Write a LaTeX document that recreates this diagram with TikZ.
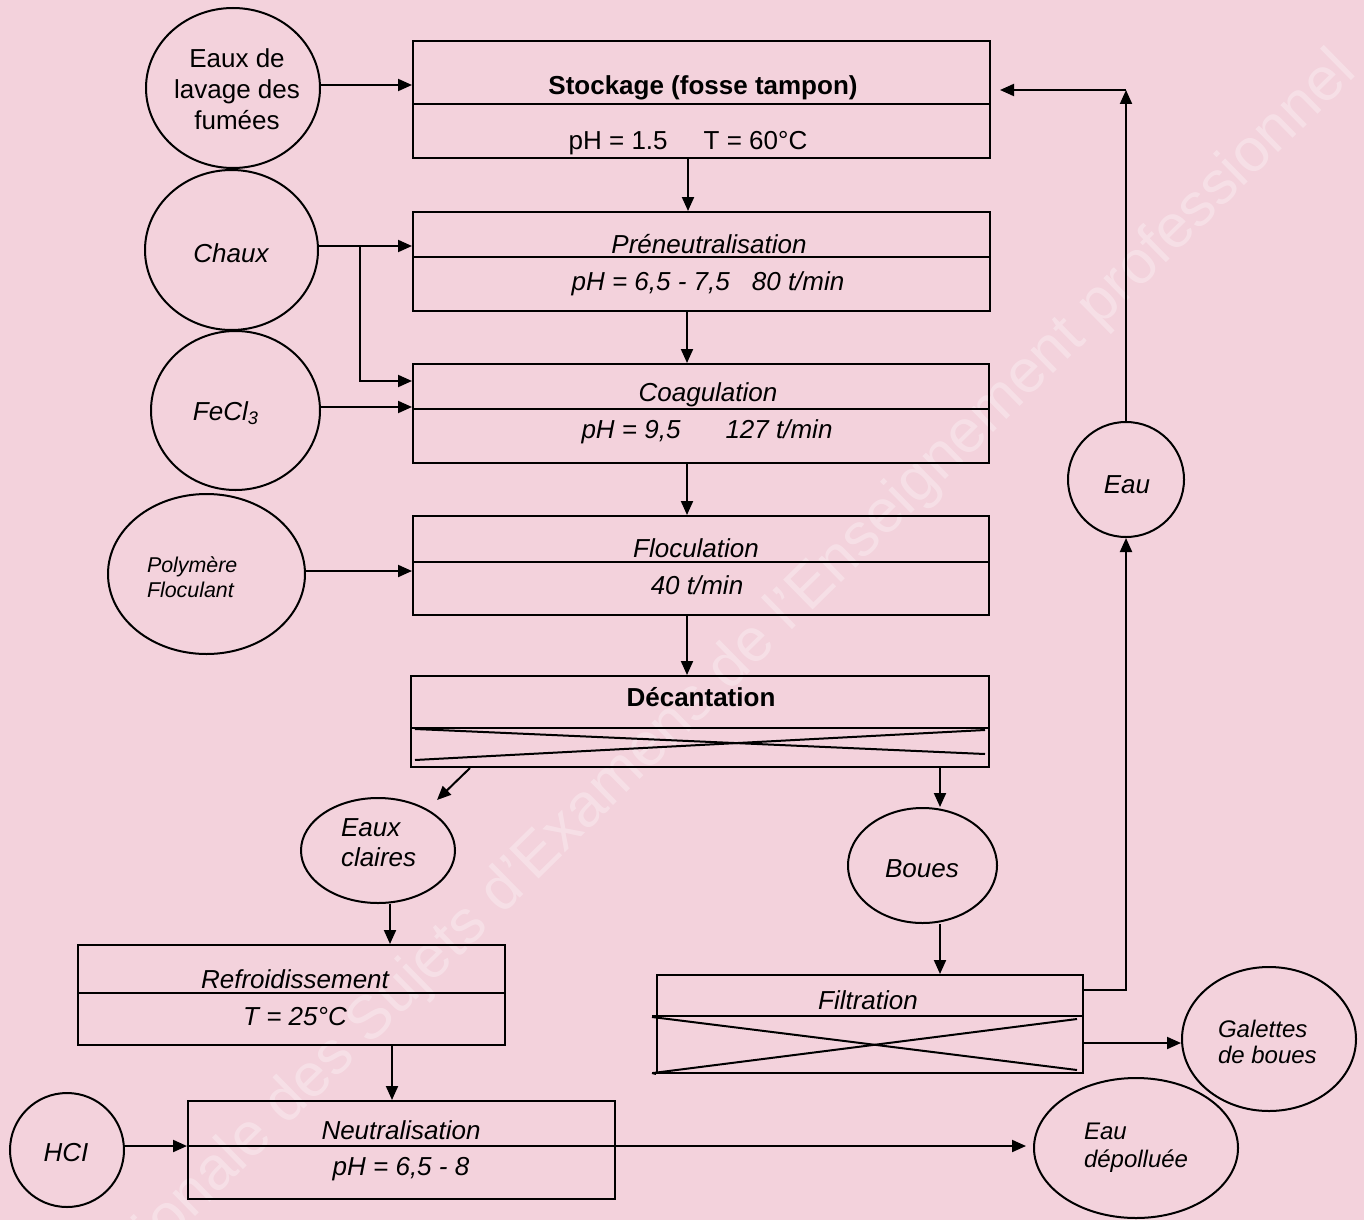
\documentclass[tikz,border=0pt]{standalone}
\usepackage{fontspec}
\setmainfont{Liberation Sans}
\usetikzlibrary{arrows.meta,shapes.geometric,calc}
\definecolor{bgpink}{RGB}{243,210,220}
\begin{document}
\begin{tikzpicture}[x=0.5pt,y=-0.5pt,
  line width=1pt,
  every node/.style={font=\fontsize{13}{15.5}\selectfont, inner sep=0pt},
  pbox/.style={draw, rectangle, inner sep=0pt},
  oval/.style={draw, ellipse, inner sep=0pt},
  lbl/.style={anchor=base},
  ilbl/.style={anchor=base, font=\fontsize{13}{15.5}\selectfont\itshape},
  arr/.style={-{Triangle[length=7pt,width=6pt]}},
  wmark/.style={text=white, opacity=0.3, font=\fontsize{30.5}{30.5}\selectfont},
]
\fill[bgpink] (0,0) rectangle (1364,1220);
\useasboundingbox (0,0) rectangle (1364,1220);
\begin{scope}
\clip (0,0) rectangle (1364,1220);
\node[wmark, rotate=44.5, anchor=east] (wm) at (1348,62) {Base Nationale des Sujets d'Examens de l'Enseignement professionnel};
\end{scope}

% process boxes
\node[pbox, minimum width=288.5pt, minimum height=58.5pt] (stock) at (701.5,99.5) {};
\node[pbox, minimum width=288.5pt, minimum height=49.5pt] (pren) at (701.5,261.5) {};
\node[pbox, minimum width=288pt, minimum height=49.5pt] (coag) at (701,413.5) {};
\node[pbox, minimum width=288pt, minimum height=49.5pt] (floc) at (701,565.5) {};
\node[pbox, minimum width=289pt, minimum height=45.5pt] (decan) at (700,721.5) {};
\node[pbox, minimum width=213.5pt, minimum height=50pt] (refr) at (291.5,995) {};
\node[pbox, minimum width=213.5pt, minimum height=49pt] (neut) at (401.5,1150) {};
\node[pbox, minimum width=213pt, minimum height=49pt] (filt) at (870,1024) {};

% dividers
\draw (stock.west |- 0,104) -- (stock.east |- 0,104);
\draw (pren.west |- 0,257) -- (pren.east |- 0,257);
\draw (coag.west |- 0,409) -- (coag.east |- 0,409);
\draw (floc.west |- 0,562) -- (floc.east |- 0,562);
\draw (decan.west |- 0,728) -- (decan.east |- 0,728);
\draw (refr.west |- 0,993) -- (refr.east |- 0,993);
\draw (neut.west |- 0,1146) -- (neut.east |- 0,1146);
\draw (652,1016) -- (filt.east |- 0,1016);
\draw (652,1073) -- (filt.south west);
% crosses
\draw (415,729) -- (985,754);
\draw (415,760) -- (985,730);
\draw (652,1017) -- (1077,1070);
\draw (653,1073) -- (1077,1019);

% box texts
\node[lbl, font=\fontsize{13}{15.5}\selectfont\bfseries] (t1) at (703,95) {Stockage (fosse tampon)};
\node[lbl] (t2) at (688,149) {pH = 1.5\hspace{18pt}T = 60°C};
\node[ilbl] (t3) at (709,253) {Préneutralisation};
\node[ilbl] (t4) at (708,290) {pH = 6,5 - 7,5\hspace{11pt}80 t/min};
\node[ilbl] (t5) at (708,401) {Coagulation};
\node[ilbl] (t6) at (707,438) {pH = 9,5\hspace{22.5pt}127 t/min};
\node[ilbl] (t7) at (696,557) {Floculation};
\node[ilbl] (t8) at (697,594) {40 t/min};
\node[lbl, font=\fontsize{13}{15.5}\selectfont\bfseries] (t9) at (701,706) {Décantation};
\node[ilbl] (t10) at (295,988) {Refroidissement};
\node[ilbl] (t11) at (295,1025) {T = 25°C};
\node[ilbl] (t12) at (401,1139) {Neutralisation};
\node[ilbl] (t13) at (401,1175) {pH = 6,5 - 8};
\node[ilbl] (t14) at (868,1009) {Filtration};

% ovals
\node[oval, minimum width=87pt, minimum height=80pt] (eaux) at (233,88) {};
\node[align=center] (eauxt) at (237,89) {Eaux de\\lavage des\\fumées};
\node[oval, minimum width=86.5pt, minimum height=80pt] (chaux) at (231.5,250) {};
\node[ilbl] (chauxt) at (231,262) {Chaux};
\node[oval, minimum width=84.5pt, minimum height=79.5pt] (fecl) at (235.5,410.5) {};
\node[ilbl] (fect) at (226,420) {FeCl\textsubscript{3}};
\node[oval, minimum width=98.5pt, minimum height=80pt] (poly) at (206.5,574) {};
\node[anchor=west, align=left, font=\fontsize{10.7}{12.5}\selectfont\itshape] (polyt) at (146,577) {Polymère\\Floculant};
\node[oval, minimum width=77pt, minimum height=52.5pt] (ecl) at (378,850.5) {};
\node[anchor=west, align=left, font=\fontsize{13}{15}\selectfont\itshape] (eclt) at (340,843) {Eaux\\claires};
\node[oval, minimum width=74.5pt, minimum height=57.5pt] (boues) at (922.5,865.5) {};
\node[ilbl] (bouest) at (922,877) {Boues};
\node[oval, minimum width=58pt, minimum height=57.5pt] (eau) at (1126,479.5) {};
\node[ilbl] (eaut) at (1127,493) {Eau};
\node[oval, minimum width=57pt, minimum height=57pt] (hcl) at (67,1150) {};
\node[ilbl] (hclt) at (66,1161) {HCI};
\node[oval, minimum width=87pt, minimum height=72pt] (gal) at (1269,1039) {};
\node[anchor=west, align=left, font=\fontsize{12}{13}\selectfont\itshape] (galt) at (1217,1042) {Galettes\\de boues};
\node[oval, minimum width=102pt, minimum height=70pt] (dep) at (1136,1148) {};
\node[anchor=west, align=left, font=\fontsize{12}{14}\selectfont\itshape] (dept) at (1083,1148) {Eau\\dépolluée};

% connectors
\draw[arr] (eaux.east |- 0,85) -- (stock.west |- 0,85);
\draw[arr] (stock.south -| 688,0) -- (pren.north -| 688,0);
\draw[arr] (pren.south -| 687,0) -- (coag.north -| 687,0);
\draw[arr] (coag.south -| 687,0) -- (floc.north -| 687,0);
\draw[arr] (floc.south -| 687,0) -- (decan.north -| 687,0);
\coordinate (branch) at (360,246);
\draw[arr] (chaux.east |- 0,246) -- (pren.west |- 0,246);
\draw[arr] (branch) |- (coag.west |- 0,381);
\draw[arr] (fecl.east |- 0,407) -- (coag.west |- 0,407);
\draw[arr] (poly.east |- 0,571) -- (floc.west |- 0,571);
\coordinate (eclin) at (437,800);
\draw[arr] (decan.south -| 470,0) -- (eclin);
\draw[arr] (decan.south -| 940,0) -- (boues.north -| 940,0);
\draw[arr] (ecl.south -| 390,0) -- (refr.north -| 390,0);
\draw[arr] (refr.south -| 392,0) -- (neut.north -| 392,0);
\draw[arr] (hcl.east |- 0,1146) -- (neut.west |- 0,1146);
\coordinate (depin) at (1026,1146);
\draw[arr] (neut.east |- 0,1146) -- (depin);
\draw[arr] (boues.south -| 940,0) -- (filt.north -| 940,0);
\draw[arr] (filt.east |- 0,1043) -- (gal.west |- 0,1043);
\draw[arr] (filt.east |- 0,990) -| (eau.south);
\coordinate (corner) at (1126,90);
\coordinate (stockin) at (1000,90);
\draw[arr] (eau.north) -- (corner);
\draw[arr] (corner) -- (stockin);
\end{tikzpicture}
\end{document}
